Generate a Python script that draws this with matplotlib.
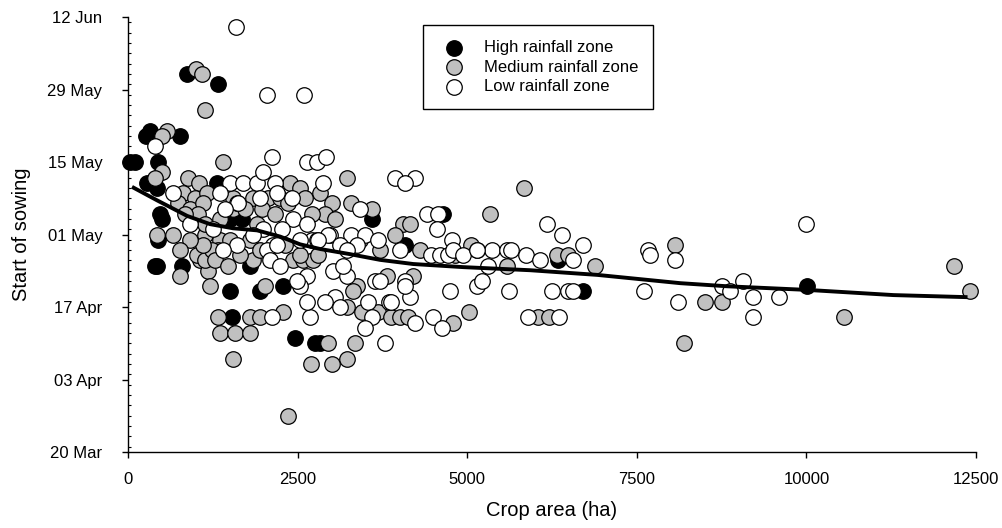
import matplotlib
matplotlib.use("Agg")
import matplotlib.pyplot as plt
from matplotlib.ticker import MultipleLocator

plt.rcParams['font.family'] = ['Liberation Sans', 'DejaVu Sans']

# ---- data: crop area (ha) and start of sowing (day of year) ----
high_x = [30, 100, 330, 270, 770, 870, 1330, 440, 280, 430, 1310, 470, 500, 1500, 1680, 430, 400, 800, 1800, 1500,
          1950, 2290, 1530, 2460, 2760, 2830, 4650, 3600, 4090, 6340, 6700, 10010, 440]
high_y = [135, 135, 141, 140, 140, 152, 150, 135, 131, 130, 131, 125, 124, 124, 124, 115, 115, 115, 115, 110,
          110, 111, 105, 101, 100, 100, 125, 124, 119, 116, 110, 111, 120]

med_x = [1000, 1090, 1140, 580, 500, 1400, 500, 400, 3230, 890,
         1050, 2390, 2540, 810, 990, 1170, 1550, 1840, 2070, 2240,
         740, 920, 1110, 1550, 1030, 1360, 1900, 430, 660, 1140,
         1360, 1500, 1800, 2830, 3010, 3280, 3600, 2910, 3050, 5340,
         4060, 4160, 5830, 8070, 6330, 6480, 6890, 5590, 4200, 3820,
         3380, 3320, 3230, 3450, 3690, 3870, 4010, 4120, 4790, 5020,
         2950, 3350, 3230, 3010, 2700, 6050, 6200, 8190, 8510, 8750,
         10560, 12170, 12410, 770, 1060, 1180, 1210, 1330, 2020, 1330,
         1800, 1950, 2290, 1360, 1580, 1800, 1550, 2360, 1840, 2430,
         2580, 2730, 1020, 1140, 1240, 1110, 1280, 3420, 3720, 3940,
         4310, 4820, 5050, 840, 1140, 1730, 1980, 2170, 2360, 2610,
         2710, 1650, 1950, 2320, 2540, 2800, 1480, 920, 770]
med_y = [153, 152, 145, 141, 140, 135, 133, 132, 132, 132,
         131, 131, 130, 129, 128, 129, 128, 128, 128, 128,
         127, 126, 127, 126, 125, 124, 123, 121, 121, 121,
         120, 120, 120, 129, 127, 127, 126, 125, 124, 125,
         123, 123, 130, 119, 117, 117, 115, 115, 113, 113,
         111, 110, 107, 106, 106, 105, 105, 105, 104, 106,
         100, 100, 97, 96, 96, 105, 105, 100, 108, 108,
         105, 115, 110, 113, 116, 114, 111, 118, 111, 105,
         105, 105, 106, 102, 102, 102, 97, 86, 116, 116,
         116, 116, 117, 116, 118, 119, 116, 120, 118, 121,
         118, 117, 119, 125, 123, 126, 126, 125, 127, 128,
         125, 117, 118, 119, 117, 117, 115, 120, 118]

low_x = [1590, 2050, 2600, 400, 2120, 2640, 2790, 2920, 1500, 1700,
         1900, 1990, 2170, 2880, 660, 1360, 1610, 1620, 1950, 2200,
         2420, 1430, 2430, 2270, 2980, 920, 1250, 1990, 2640, 2710,
         1840, 1610, 2140, 2540, 2790, 3940, 4230, 4090, 3420, 4410,
         4570, 4560, 4780, 4010, 2950, 3280, 3500, 3690, 2800, 3130,
         3380, 5150, 5370, 5590, 6180, 6400, 6710, 7660, 5640, 5860,
         6080, 6560, 7690, 8070, 5610, 6250, 6480, 6560, 7600, 8100,
         5900, 6360, 4750, 5150, 5220, 3840, 4160, 4090, 4500, 4230,
         4630, 3790, 9990, 8760, 8880, 9070, 9220, 9590, 9220, 3020,
         3230, 3640, 3720, 4090, 3870, 3050, 2910, 3130, 3540, 3600,
         2690, 3500, 3230, 4460, 4600, 4710, 4790, 4940, 5150, 5300,
         1400, 2050, 2200, 2100, 2240, 2640, 2540, 2640, 2120, 2490,
         3170]
low_y = [161, 148, 148, 138, 136, 135, 135, 136, 131, 131,
         131, 133, 131, 131, 129, 129, 127, 127, 128, 129,
         128, 126, 124, 122, 121, 123, 122, 122, 123, 120,
         121, 119, 119, 120, 120, 132, 132, 131, 126, 125,
         125, 122, 120, 118, 121, 121, 121, 120, 120, 119,
         119, 118, 118, 118, 123, 121, 119, 118, 118, 117,
         116, 116, 117, 116, 110, 110, 110, 110, 110, 108,
         105, 105, 110, 111, 112, 108, 109, 112, 105, 104,
         103, 100, 123, 111, 110, 112, 109, 109, 105, 114,
         113, 112, 112, 111, 108, 109, 108, 107, 108, 105,
         105, 103, 118, 117, 117, 117, 118, 117, 118, 115,
         118, 118, 119, 116, 115, 113, 111, 108, 105, 112,
         115]

fit_x = [59, 428, 870, 1210, 1549, 1903, 2242, 2537, 2832, 3275, 3717, 4204, 4941, 5930, 6918, 8142, 8835,
         10015, 11284, 12375]
fit_y = [130.2, 127.6, 124.6, 123.0, 122.2, 121.8, 120.6, 119.1, 118.2, 117.2, 116.1, 115.3, 114.7, 114.1, 113.2,
         111.6, 111.0, 110.3, 109.3, 108.9]

ytick_doy = [79, 93, 107, 121, 135, 149, 163]
ytick_labels = ['20 Mar', '03 Apr', '17 Apr', '01 May', '15 May', '29 May', '12 Jun']
xticks = [0, 2500, 5000, 7500, 10000, 12500]

# ---- figure ----
fig = plt.figure(figsize=(10.03, 5.28), dpi=100)
ax = fig.add_axes([128 / 1003, 1 - 452 / 528, 848 / 1003, 435 / 528])

common = dict(s=125, edgecolors='black', linewidths=0.9, clip_on=False)
ax.scatter(high_x, high_y, c='black', label='High rainfall zone', zorder=2, **common)
ax.scatter(med_x, med_y, c='#c0c0c0', label='Medium rainfall zone', zorder=3, **common)
ax.scatter(low_x, low_y, c='white', label='Low rainfall zone', zorder=4, **common)
ax.plot(fit_x, fit_y, color='black', lw=2.8, zorder=5, solid_capstyle='butt')

ax.set_xlim(0, 12500)
ax.set_ylim(79, 163)
ax.set_xticks(xticks)
ax.set_xticklabels([str(v) for v in xticks])
ax.set_yticks(ytick_doy)
ax.set_yticklabels(ytick_labels)
ax.yaxis.set_minor_locator(MultipleLocator(2))

for s in ['top', 'right']:
    ax.spines[s].set_visible(False)
for s in ['left', 'bottom']:
    ax.spines[s].set_linewidth(1.0)

ax.tick_params(axis='both', which='major', direction='out', length=4.5, width=1.0, labelsize=12)
ax.tick_params(axis='x', which='major', pad=10)
ax.tick_params(axis='y', which='major', pad=14)
ax.tick_params(axis='y', which='minor', direction='in', length=2, width=0.8)

ax.set_xlabel('Crop area (ha)', fontsize=14.5, labelpad=10)
ax.set_ylabel('Start of sowing', fontsize=14.5, labelpad=12)

leg = ax.legend(loc='upper left', bbox_to_anchor=((423 - 128) / 848, (452 - 25) / 435), borderaxespad=0,
                fontsize=12, frameon=True, fancybox=False, framealpha=1, edgecolor='black',
                handlelength=1.9, handletextpad=0.85, borderpad=0.9, labelspacing=0.27, scatterpoints=1)
leg.get_frame().set_linewidth(1.0)

fig.savefig('out.png', dpi=100)
